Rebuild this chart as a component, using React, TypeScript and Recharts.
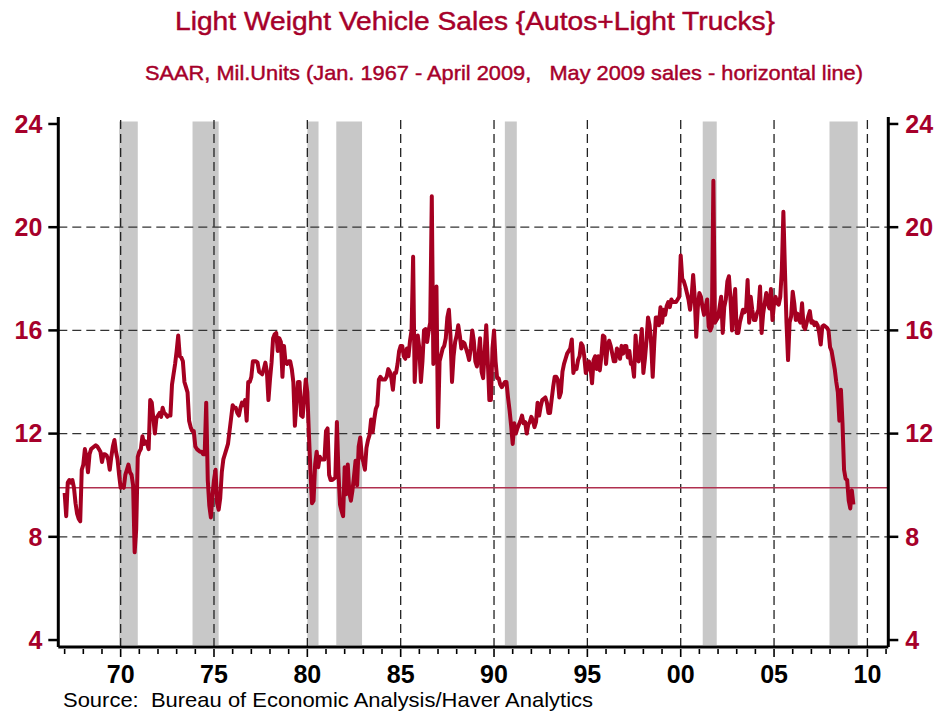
import React from 'react';
import { ComposedChart, Line, XAxis, YAxis, ReferenceLine, ReferenceArea } from 'recharts';

const START_YEAR = 1967;

// Monthly SAAR, million units
const sales1967to1976 = [
  9.7, 8.8, 10.1, 10.2, 10.1, 10.2, 9.9, 9.3, 8.9, 8.7, 8.6, 10.6,
  10.8, 11.4, 11.1, 10.5, 11.2, 11.4, 11.45, 11.5, 11.55, 11.5, 11.4, 11.3,
  10.9, 11.2, 11.2, 11.15, 11.0, 10.6, 11.1, 11.5, 11.75, 11.3, 11.0, 10.4,
  9.9, 10.0, 9.9, 10.4, 10.6, 10.8, 10.5, 10.4, 10.0, 7.4, 8.3, 11.1,
  11.3, 11.4, 11.9, 11.6, 11.7, 11.6, 11.4, 13.3, 13.2, 12.6, 12.0, 12.6,
  12.7, 12.8, 12.65, 13.0, 12.8, 12.75, 12.65, 12.7, 12.7, 13.9, 14.3, 14.7,
  15.2, 15.8, 15.0, 14.95, 14.8, 14.0, 13.8, 13.6, 12.5, 12.25, 12.1, 12.1,
  11.5, 11.4, 11.35, 11.3, 11.3, 11.2, 11.2, 13.2, 10.2, 9.2, 8.75, 9.6,
  10.2, 10.6, 9.3, 9.05, 9.5, 10.5, 11.0, 11.2, 11.4, 11.6, 12.1, 12.6,
  13.1, 13.0, 13.0, 12.8, 12.7, 13.0, 13.2, 13.1, 13.3, 12.5, 14.0, 14.0,
];
const sales1977to1986 = [
  14.2, 14.8, 14.8, 14.8, 14.75, 14.4, 14.35, 14.3, 14.5, 14.75, 14.4, 13.3,
  14.1, 14.75, 15.7, 15.85, 15.9, 15.2, 15.7, 15.55, 14.2, 15.4, 14.75, 14.7,
  14.8, 14.8, 14.5, 14.0, 12.3, 13.2, 14.0, 14.0, 12.7, 12.65, 13.4, 14.1,
  13.6, 12.0, 10.55, 9.3, 9.4, 10.8, 11.3, 10.7, 11.1, 11.0, 11.0, 11.0,
  12.1, 12.2, 10.4, 10.2, 10.2, 10.25, 10.3, 12.45, 10.5, 9.25, 9.0, 8.8,
  10.7, 9.65, 10.8, 9.7, 9.4, 9.8, 10.35, 10.95, 10.0, 11.5, 11.85, 11.1,
  10.9, 10.6, 11.45, 11.75, 11.95, 12.55, 12.05, 12.55, 12.95, 13.1, 14.1, 14.2,
  14.1, 14.1, 14.1, 14.2, 14.5, 14.4, 14.15, 13.7, 14.35, 14.35, 14.7, 15.2,
  15.4, 15.4, 15.0, 14.9, 15.3, 15.0, 15.6, 16.0, 18.85, 14.0, 15.2, 15.8,
  15.3, 14.0, 14.8, 16.0, 16.05, 15.55, 16.0, 16.3, 21.2, 14.7, 15.0, 17.7,
];
const sales1987to1996 = [
  12.25, 14.8, 15.05, 15.3, 15.4, 15.7, 16.5, 16.8, 15.8, 14.0, 15.0, 15.55,
  15.8, 16.2, 15.8, 15.3, 15.55, 15.5, 15.3, 15.1, 14.85, 15.3, 16.0, 15.6,
  14.8, 14.6, 15.0, 15.7, 14.4, 14.15, 15.2, 16.2, 14.8, 13.3, 13.3, 15.3,
  16.0, 14.8, 14.15, 14.15, 13.9, 13.8, 13.9, 14.0, 14.0, 13.4, 12.9, 12.3,
  11.6, 12.4, 12.0, 12.2, 12.35, 12.5, 12.7, 12.4, 12.45, 12.0, 12.35, 12.45,
  12.65, 12.5, 12.25, 12.45, 13.2, 12.7, 13.05, 13.3, 13.35, 13.4, 13.2, 12.8,
  12.8, 13.3, 13.8, 14.2, 14.2, 14.1, 13.4, 13.6, 14.4, 14.7, 14.9, 15.1,
  15.2, 15.3, 15.65, 14.35, 14.6, 14.5, 14.85, 15.0, 15.5, 15.4, 15.0, 14.35,
  14.5, 14.8, 14.6, 13.95, 14.85, 15.0, 14.5, 15.0, 14.45, 15.0, 15.8, 15.75,
  14.7, 15.4, 15.6, 15.4, 15.1, 14.8, 14.8, 15.3, 15.2, 14.9, 15.4, 15.1,
];
const sales1997to2006 = [
  15.4, 15.4, 14.95, 15.2, 14.7, 14.7, 14.2, 15.8, 14.9, 14.8, 15.4, 16.05,
  14.35, 14.9, 15.6, 16.5, 16.2, 15.5, 14.2, 15.5, 16.5, 16.5, 16.2, 16.9,
  16.3, 16.8, 16.6, 16.95, 17.1, 16.9, 17.2, 17.1, 17.1, 17.1, 17.2, 17.3,
  18.9, 18.0, 17.9, 17.7, 17.45, 17.2, 16.8, 17.3, 18.15, 17.3, 15.75, 16.9,
  17.45, 17.3, 16.9, 16.6, 16.9, 17.2, 16.15, 16.0, 16.15, 21.8, 16.3, 16.4,
  16.5, 16.9, 17.3, 15.9, 16.9, 17.2, 17.9, 18.1, 17.2, 16.0, 17.0, 17.6,
  15.9, 15.9, 16.3, 16.55, 16.8, 16.7, 16.8, 17.95, 16.3, 17.3, 16.8, 16.4,
  16.4, 16.65, 16.8, 17.7, 15.9, 16.65, 17.05, 17.45, 17.05, 16.85, 17.6, 16.4,
  17.05, 17.3, 17.05, 17.0, 17.3, 18.35, 20.6, 18.35, 16.3, 14.85, 16.3, 16.55,
  17.5, 17.05, 16.4, 16.65, 16.4, 16.3, 17.05, 16.15, 16.05, 16.3, 16.55, 16.75,
];
const sales2007to2009 = [
  16.3, 16.35, 16.2, 16.3, 16.2, 15.9, 15.45, 16.15, 16.2, 16.15, 16.1, 16.0,
  15.35, 15.2, 14.85, 14.5, 14.0, 13.6, 12.5, 13.7, 12.4, 10.6, 10.25, 10.2,
  9.4, 9.1, 9.8, 9.25,
];

const may2009Sales = 9.9;

// NBER recessions [start, end] in fractional years
const recessions: [number, number][] = [
  [1969.917, 1970.917],
  [1973.85, 1975.25],
  [1980.0, 1980.6],
  [1981.55, 1982.93],
  [1990.58, 1991.22],
  [2001.18, 2001.93],
  [2007.97, 2009.48],
];

const yTicks = [4, 8, 12, 16, 20, 24];
const yGrid = [8, 12, 16, 20];
const xMajor = [1970, 1975, 1980, 1985, 1990, 1995, 2000, 2005, 2010];
const xTicks = Array.from({ length: 2011 - 1967 + 1 }, (_, i) => 1967 + i);

const allSales = [
  ...sales1967to1976,
  ...sales1977to1986,
  ...sales1987to1996,
  ...sales1997to2006,
  ...sales2007to2009,
];
const data = allSales.map((v, i) => ({ t: START_YEAR + i / 12, v }));

const RED = '#A6002A';
const FONT = '"Liberation Sans", Arial, Helvetica, sans-serif';

const XTick = (props: any) => {
  const { x, y, payload } = props;
  const yr = Math.round(payload.value);
  const major = yr % 5 === 0;
  return (
    <g>
      <line x1={x} x2={x} y1={y + 2} y2={y + (major ? 10 : 7)} stroke="#000" strokeWidth={1.6} />
      {major && (
        <text x={x} y={y + 36} textAnchor="middle" fontSize={25} fontWeight="bold" fontFamily={FONT} fill="#000">
          {String(yr % 100).padStart(2, '0')}
        </text>
      )}
    </g>
  );
};

export default function App() {
  const yDomain = [3.73, 24.27];
  const xDomain = [1966.66, 2011.12];
  const tickStyle = { fill: RED, fontSize: 25, fontWeight: 'bold', fontFamily: FONT } as any;
  return (
    <div style={{ position: 'absolute', left: 0, top: 0, width: 942, height: 711, background: '#fff' }}>
      <ComposedChart
        width={942}
        height={711}
        data={data}
        margin={{ top: 117, right: 0, bottom: 0, left: 0 }}
        style={{ fontFamily: FONT }}
      >
        <XAxis
          dataKey="t"
          type="number"
          domain={xDomain}
          allowDataOverflow
          ticks={xTicks}
          interval={0}
          tick={(p: any) => <XTick {...p} />}
          tickLine={false}
          tickSize={0}
          tickMargin={0}
          height={64}
          axisLine={{ stroke: '#000', strokeWidth: 3 }}
        />
        <XAxis
          xAxisId="top"
          orientation="top"
          type="number"
          domain={xDomain}
          allowDataOverflow
          tick={false}
          tickLine={false}
          height={0}
          axisLine={{ stroke: '#000', strokeWidth: 3 }}
        />
        <YAxis
          type="number"
          domain={yDomain}
          allowDataOverflow
          ticks={yTicks}
          interval={0}
          width={58.3}
          tickSize={10}
          tickMargin={6}
          tick={tickStyle}
          tickLine={{ stroke: '#000', strokeWidth: 2.5 }}
          axisLine={{ stroke: '#000', strokeWidth: 3 }}
        />
        <YAxis
          yAxisId="r"
          orientation="right"
          type="number"
          domain={yDomain}
          allowDataOverflow
          ticks={yTicks}
          interval={0}
          width={53.7}
          tickSize={10}
          tickMargin={7}
          tick={tickStyle}
          tickLine={{ stroke: '#000', strokeWidth: 2.5 }}
          axisLine={{ stroke: '#000', strokeWidth: 3 }}
        />
        {recessions.map(([a, b], i) => (
          <ReferenceArea key={'r' + i} x1={a} x2={b} y1={3.81} y2={24.1} fill="#C8C8C8" fillOpacity={1} stroke="none" />
        ))}
        {xMajor.map((yr) => (
          <ReferenceLine key={'vx' + yr} x={yr} stroke="#222" strokeWidth={1.3} strokeDasharray="9 5" />
        ))}
        {yGrid.map((v) => (
          <ReferenceLine key={'hy' + v} y={v} stroke="#333" strokeWidth={1.3} strokeDasharray="9 5" />
        ))}
        <ReferenceLine y={may2009Sales} stroke="#B0304F" strokeWidth={1.6} />
        <Line
          type="linear"
          dataKey="v"
          stroke="#A50021"
          strokeWidth={4}
          dot={false}
          strokeLinejoin="round"
          isAnimationActive={false}
        />
      </ComposedChart>
      <svg width={942} height={711} style={{ position: 'absolute', left: 0, top: 0, pointerEvents: 'none' }}>
        <text x={475} y={30} textAnchor="middle" fontSize={26} fontFamily={FONT} fill={RED} stroke={RED} strokeWidth={0.45} textLength={600} lengthAdjust="spacingAndGlyphs">
          Light Weight Vehicle Sales {'{'}Autos+Light Trucks{'}'}
        </text>
        <text x={504} y={80} textAnchor="middle" fontSize={21} fontFamily={FONT} fill={RED} stroke={RED} strokeWidth={0.45} textLength={718} lengthAdjust="spacingAndGlyphs" style={{ whiteSpace: 'pre' }}>
          {'SAAR, Mil.Units (Jan. 1967 - April 2009,   May 2009 sales - horizontal line)'}
        </text>
        <text x={63} y={707} fontSize={21} fontFamily={FONT} fill="#000" textLength={530} lengthAdjust="spacingAndGlyphs" style={{ whiteSpace: 'pre' }}>
          {'Source:  Bureau of Economic Analysis/Haver Analytics'}
        </text>
      </svg>
    </div>
  );
}
